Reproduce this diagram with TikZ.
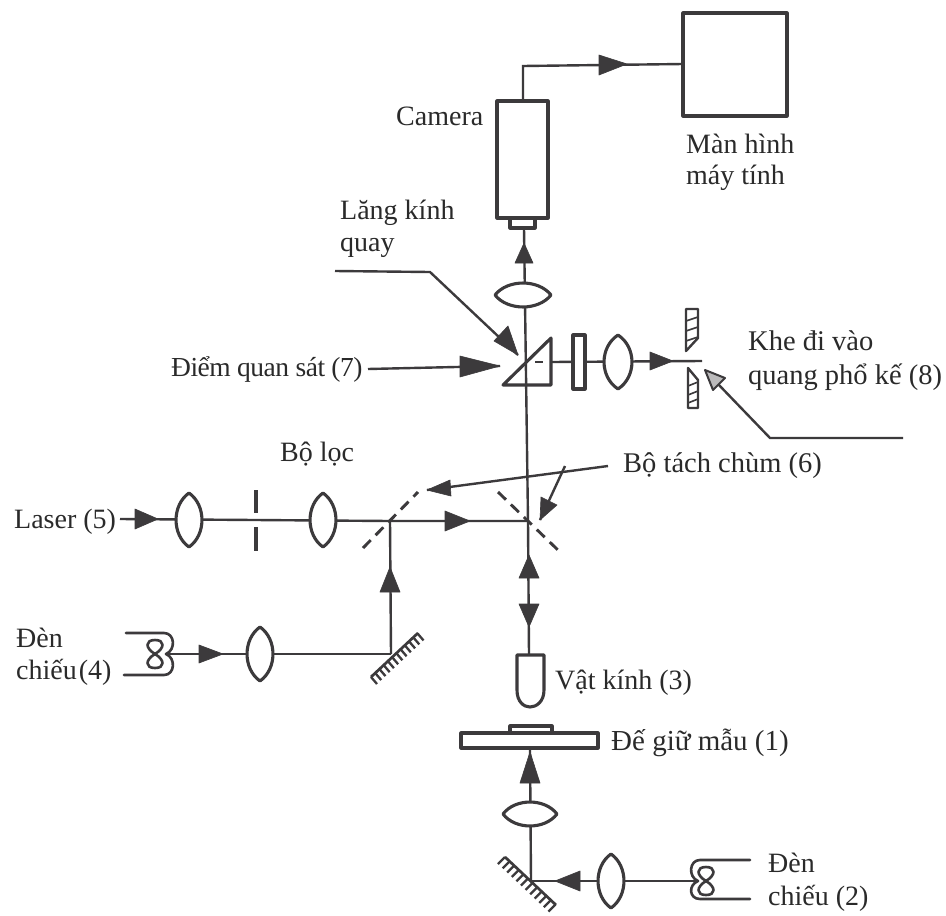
\documentclass[tikz,border=0pt]{standalone}
\usepackage{fontspec}
\setmainfont{Liberation Serif}
\usetikzlibrary{arrows.meta,calc}
\definecolor{ink}{HTML}{3C3A3C}
\definecolor{txt}{HTML}{2A2A2A}
\tikzset{
  x=1pt,y=-1pt,
  ray/.style={draw=ink,line width=2.4pt},
  part/.style={draw=ink,line width=3.1pt,fill=white,line join=round},
  wire/.style={draw=ink,line width=2.6pt,line join=round,line cap=round},
  head/.style={fill=ink,draw=ink,line width=.6pt,line join=round},
  beam/.style={draw=ink,line width=2.9pt,dash pattern=on 11pt off 7pt},
  lbl/.style={anchor=base west,inner sep=0pt,text=txt,font=\fontsize{#1}{30}\selectfont},
  lbl/.default=28,
  comb/.style={draw=ink,line width=2.7pt},
}
% lens with pointed ends on top and bottom: name, x, y, half width, half height
\newcommand{\lensTall}[5]{\coordinate (#1) at (#2,#3);
  \draw[part] (#2,#3-#5) .. controls (#2+1.33*#4,#3-.55*#5) and (#2+1.33*#4,#3+.55*#5) .. (#2,#3+#5)
    .. controls (#2-1.33*#4,#3+.55*#5) and (#2-1.33*#4,#3-.55*#5) .. cycle;}
% lens with pointed ends left and right
\newcommand{\lensWide}[5]{\coordinate (#1) at (#2,#3);
  \draw[part] (#2-#4,#3) .. controls (#2-.55*#4,#3-1.33*#5) and (#2+.55*#4,#3-1.33*#5) .. (#2+#4,#3)
    .. controls (#2+.55*#4,#3+1.33*#5) and (#2-.55*#4,#3+1.33*#5) .. cycle;}
\newcommand{\headAt}[6]{\fill[head] (#1,#2) -- (#3+#5,#4+#6) -- (#3-#5,#4-#6) -- cycle;}
% stacked double loop of a filament, centred on x,y
\newcommand{\loopPair}[2]{\draw[wire] (#1,#2) .. controls (#1-10,#2-6) and (#1-10,#2-14) .. (#1,#2-14)
   .. controls (#1+10,#2-14) and (#1+10,#2-6) .. (#1,#2)
   .. controls (#1-10,#2+6) and (#1-10,#2+14) .. (#1,#2+14)
   .. controls (#1+10,#2+14) and (#1+10,#2+6) .. cycle;}
\begin{document}
\begin{tikzpicture}
\useasboundingbox (0,0) rectangle (946,916);
\fill[white] (0,0) rectangle (946,916);

% named points on the optical paths
\coordinate (camIn) at (523,101);
\coordinate (camUp) at (523,66);
\coordinate (monL) at (683,64);
\coordinate (camLow) at (524,228);
\coordinate (sJ) at (528,521);
\coordinate (fJ) at (390,521);
\coordinate (mA) at (391,654);
\coordinate (mB) at (531,881);
\coordinate (stage) at (530,748);
\coordinate (objT) at (529,655);
\coordinate (laserL) at (120,519);
\coordinate (slitE) at (702,361);
\coordinate (prismR) at (551,362);
\coordinate (coilA) at (166,654);
\coordinate (coilB) at (698,881);

% rays
\draw[ray] (camIn) -- (camUp) -- (monL);
\draw[ray] (camLow) -- (sJ) -- (objT);
\draw[ray] (laserL) -- (fJ) -- (sJ);
\draw[ray] (fJ) -- (mA);
\draw[ray] (coilA) -- (mA);
\draw[ray] (stage) -- (mB);
\draw[ray] (mB) -- (coilB);
\draw[ray] (prismR) -- (slitE);

% arrow heads on rays
\headAt{627}{64}{599}{65}{0}{10}
\headAt{524}{243}{524}{263}{9}{0}
\headAt{673}{361}{650}{361}{0}{9}
\headAt{158}{519}{135}{519}{0}{10}
\headAt{470}{521}{445}{521}{0}{10}
\headAt{390}{567}{390}{592}{10}{0}
\headAt{529}{555}{529}{578}{10}{0}
\headAt{529}{627}{529}{604}{10}{0}
\headAt{223}{654}{199}{654}{0}{9}
\headAt{530}{752}{530}{783}{10}{0}
\headAt{555}{881}{580}{881}{0}{10}

% monitor and camera
\node[part,minimum width=104pt,minimum height=103pt,inner sep=0pt] (monitor) at (735,64.5) {};
\node[part,minimum width=51pt,minimum height=117pt,inner sep=0pt] (camera) at (522.5,159.5) {};
\node[part,minimum width=25pt,minimum height=10pt,inner sep=0pt] (camlens) at (522.5,223) {};

% lenses
\lensWide{l1}{523}{295}{28}{12}
\lensTall{l2}{618}{362}{14}{27}
\lensTall{l3}{189}{520}{13}{27}
\lensTall{l4}{323}{520}{13}{27}
\lensTall{l5}{260}{654}{13}{27}
\lensWide{l6}{530}{814}{27}{12}
\lensTall{l7}{611}{881}{13}{27}

% prism, plate
\draw[part,fill=none] (503,385) -- (551,338) -- (551,385) -- cycle;
\draw[ray] (535,362) -- (543,362);
\node[part,minimum width=12pt,minimum height=54pt,inner sep=0pt] (plate) at (579,362) {};

% slit jaws
\draw[part,line width=2.4pt] (686,309) -- (698,309) -- (698,338) -- (686,351) -- cycle;
\draw[part,line width=2.4pt] (688,368) -- (698,380) -- (698,408) -- (688,408) -- cycle;
\foreach \y in {319,329,339}{\draw[ray,line width=1.6pt] (686,\y+2) -- (698,\y-2);}
\foreach \y in {384,393,401}{\draw[ray,line width=1.6pt] (688,\y+2) -- (698,\y-2);}

% pinhole
\draw[ray,line width=3.2pt] (256,490) -- (256,513);
\draw[ray,line width=3.2pt] (256,527) -- (256,551);

% beam splitters
\draw[beam] (363,548) -- (418,492);
\draw[beam] (498,492) -- (560,552);

% mirrors
\draw[comb] (371,677) -- (418,633);
\foreach \t in {0,.09,...,1.01}{\draw[comb,line width=2.3pt] ($(371,677)!\t!(418,633)$) -- +(6,7);}
\draw[comb] (505,857) -- (556,905);
\foreach \t in {0,.09,...,1.01}{\draw[comb,line width=2.3pt] ($(505,857)!\t!(556,905)$) -- +(-7,7);}

% objective
\draw[part] (517,655) -- (544,655) -- (544,690) .. controls (544,702) and (536,707) .. (530,707) .. controls (524,707) and (517,702) .. (517,690) -- cycle;

% stage and sample
\draw[part] (510,733) -- (510,726) -- (552,726) -- (552,733);
\node[part,minimum width=137pt,minimum height=15pt,inner sep=0pt] (stagebox) at (529.5,740.5) {};

% filaments
\draw[wire] (126,633) -- (164,633) .. controls (175,633) and (176,650) .. (166,654) .. controls (176,658) and (175,675) .. (164,675) -- (124,675);
\loopPair{155}{654}
\draw[wire] (750,860) -- (700,860) .. controls (689,860) and (688,877) .. (698,881) .. controls (688,885) and (689,899) .. (700,899) -- (750,899);
\loopPair{706}{881}

% leader lines with heads
\coordinate (tipPrism) at (518,355);
\draw[ray] (335,271) -- (430,272) -- (tipPrism);
\fill[head] (tipPrism) -- (494,341) -- (508,326) -- cycle;
\coordinate (tipObs) at (500,366);
\draw[ray] (368,369) -- (tipObs);
\fill[head] (tipObs) -- (460,356) -- (460,377) -- cycle;
\coordinate (tipSlit) at (705,370);
\draw[ray] (903,438) -- (770,438) -- (718,384);
\draw[part,line width=2pt,fill=ink!35] (tipSlit) -- (725,378) -- (713,390) -- cycle;
\coordinate (tipBS1) at (427,490);
\draw[ray] (608,466) -- (tipBS1);
\fill[head] (tipBS1) -- (450,480) -- (451,496) -- cycle;
\coordinate (tipBS2) at (540,520);
\draw[ray] (565,466) -- (tipBS2);
\fill[head] (tipBS2) -- (541,497) -- (557,505) -- cycle;

% labels
\node[lbl] (tCam) at (396,125) {Camera};
\node[lbl] (tM1) at (686,153) {Màn hình};
\node[lbl] (tM2) at (686,184) {máy tính};
\node[lbl] (tL1) at (340,219) {Lăng kính};
\node[lbl] (tL2) at (340,251) {quay};
\node[lbl=27.5] (tObs) at (171,376) {\addfontfeature{LetterSpace=-1.8}Điểm quan sát (7)};
\node[lbl=28.5] (tK1) at (748,350) {Khe đi vào};
\node[lbl=28.5] (tK2) at (748,384) {quang phổ kế (8)};
\node[lbl] (tF) at (280,461) {Bộ lọc};
\node[lbl=28.5] (tB) at (623,472) {Bộ tách chùm (6)};
\node[lbl] (tLa) at (14,528) {Laser (5)};
\node[lbl] (tD4) at (16,647) {Đèn};
\node[lbl] (tC4) at (16,679) {chiếu\hspace{2pt}(4)};
\node[lbl] (tV) at (555,689) {Vật kính (3)};
\node[lbl=29] (tS) at (611,750) {Đế giữ mẫu (1)};
\node[lbl] (tD2) at (768,872) {Đèn};
\node[lbl] (tC2) at (768,905) {chiếu (2)};
\end{tikzpicture}
\end{document}
